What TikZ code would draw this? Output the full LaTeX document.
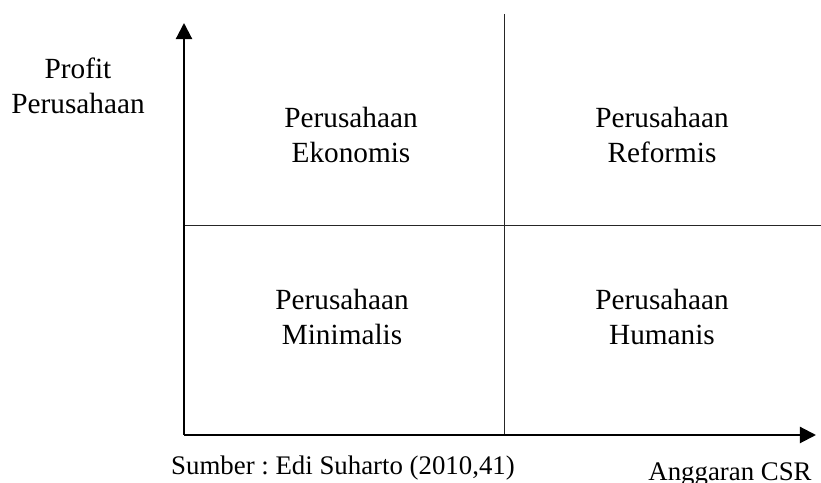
\documentclass[tikz,border=0pt]{standalone}
\usepackage{fontspec}
\setmainfont{Liberation Serif}
\usepackage{tikz}
\usetikzlibrary{arrows.meta,positioning}
\frenchspacing

\begin{document}
\begin{tikzpicture}[x=0.41pt, y=-0.41pt, every node/.style={font=\fontsize{12}{14.4}\selectfont, align=center, inner sep=0pt}]
\tikzset{axis/.style={line width=0.85pt, -{Triangle[length=6.6pt, width=6.6pt]}}}
\tikzset{divider/.style={line width=0.4pt, black!85}}
\tikzset{note/.style={font=\fontsize{11}{13}\selectfont, anchor=base}}
\useasboundingbox (0,0) rectangle (821,483);
\coordinate (o) at (184,435);
\coordinate (ytip) at (184,23);
\coordinate (xtip) at (816,435);
\coordinate (vtop) at (504,14);
\coordinate (vbot) at (504,435);
\coordinate (hleft) at (184,225);
\coordinate (hright) at (821,225);
% quadrant labels
\node (eko) at (351,135) {Perusahaan\\Ekonomis};
\node (ref) at (662,135) {Perusahaan\\Reformis};
\node (min) at (342,317) {Perusahaan\\Minimalis};
\node (hum) at (662,317) {Perusahaan\\Humanis};
% axis labels
\node (profit) at (78,86) {Profit\\Perusahaan};
\node[note] (csr) at (730,481) {Anggaran CSR};
\node[note] (src) at (343,475) {Sumber : Edi Suharto (2010,41)};
\draw[divider] (vtop) -- (vbot);
\draw[divider] (hleft) -- (hright);
\draw[axis] (o) -- (ytip);
\draw[axis] (o) -- (xtip);
\end{tikzpicture}
\end{document}
